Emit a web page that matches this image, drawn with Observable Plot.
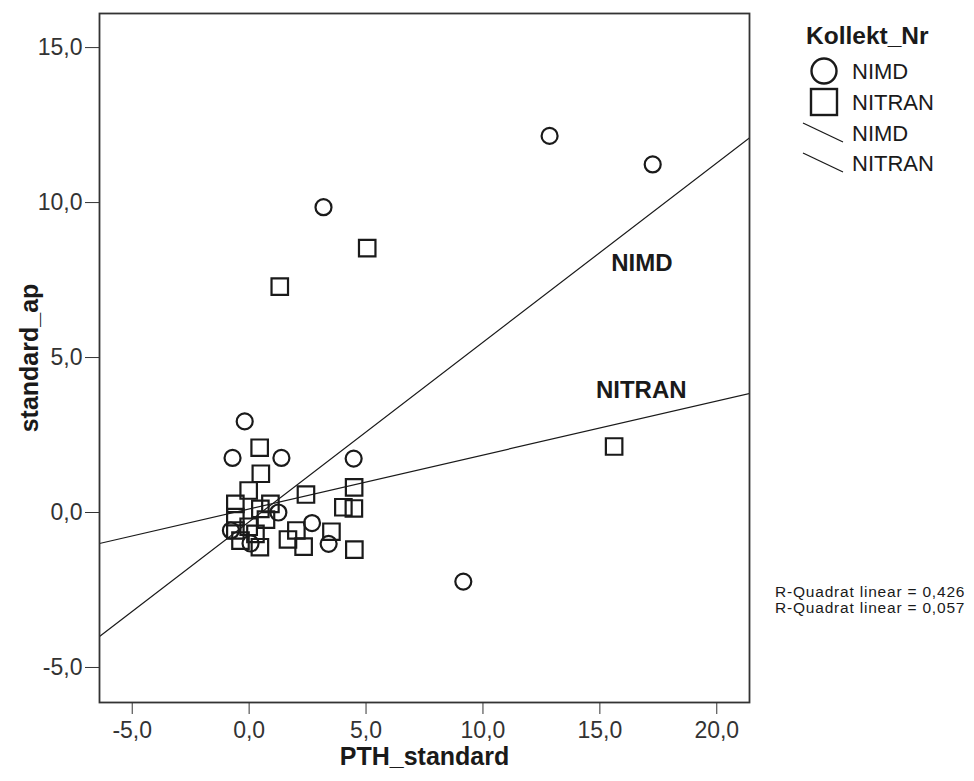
<!DOCTYPE html>
<html><head><meta charset="utf-8">
<script src="https://cdn.jsdelivr.net/npm/d3@7"></script>
<script src="https://cdn.jsdelivr.net/npm/@observablehq/plot@0.6"></script>
<style>
body{margin:0;background:#fff;}
#wrap{position:relative;width:974px;height:781px;font-family:"Liberation Sans",Arial,sans-serif;}
#wrap svg{display:block;}
#legend{position:absolute;left:0;top:0;pointer-events:none;}
</style></head><body><div id="wrap"></div>
<script>
// ---- data ----
const nimdX = [12.85, 17.26, 3.18, -0.19, -0.71, 1.38, 4.47, 2.69, 1.25, -0.78, 3.40, 9.16, 0.06];
const nimdY = [12.15, 11.23, 9.85, 2.94, 1.76, 1.76, 1.74, -0.34, 0.0, -0.58, -1.01, -2.23, -1.0];
const nitranX = [5.05, 1.31, 15.61, 0.45, 0.50, -0.02, -0.59, 0.91, 2.43, 4.49, 4.03, 4.48, -0.59, 0.48, 0.72, -0.02, 0.27, -0.59, -0.37, 0.46, 1.66, 2.02, 2.33, 3.52, 4.50];
const nitranY = [8.53, 7.29, 2.13, 2.09, 1.25, 0.71, 0.28, 0.28, 0.58, 0.81, 0.17, 0.13, -0.15, 0.12, -0.23, -0.46, -0.69, -0.58, -0.91, -1.12, -0.87, -0.58, -1.10, -0.62, -1.20];
const fitX = [-6.4, 21.4];
const nimdFitY = [-4.0, 12.09];
const nitranFitY = [-1.0, 3.84];
const groups = ["NIMD", "NITRAN"];
const fitLabelX = [16.8, 16.77];
const fitLabelY = [8.03, 3.94];
const rSquared = ["0,426", "0,057"];
const xTicks = [-5, 0, 5, 10, 15, 20];
const yTicks = [-5, 0, 5, 10, 15];
const xDomain = [-6.4, 21.4];
const yDomain = [-6.13, 16.1];
const xTitle = "PTH_standard";
const yTitle = "standard_ap";
const legendTitle = "Kollekt_Nr";

// ---- build ----
const fmt = d => d.toFixed(1).replace(".", ",");
const nimd = nimdX.map((x, i) => ({x, y: nimdY[i]}));
const nitran = nitranX.map((x, i) => ({x, y: nitranY[i]}));
const nimdFit = fitX.map((x, i) => ({x, y: nimdFitY[i]}));
const nitranFit = fitX.map((x, i) => ({x, y: nitranFitY[i]}));
const fitLabels = groups.map((g, i) => ({x: fitLabelX[i], y: fitLabelY[i], text: g}));
const ink = "#1a1a1a";

const chart = Plot.plot({
  width: 974, height: 781,
  marginLeft: 99, marginRight: 225, marginTop: 13, marginBottom: 79,
  style: {fontFamily: "'Liberation Sans', Arial, sans-serif", background: "white", color: "#333"},
  x: {domain: xDomain},
  y: {domain: yDomain},
  marks: [
    Plot.line(nimdFit, {x: "x", y: "y", stroke: ink, strokeWidth: 1.2, clip: true}),
    Plot.line(nitranFit, {x: "x", y: "y", stroke: ink, strokeWidth: 1.2, clip: true}),
    Plot.dot(nimd, {x: "x", y: "y", symbol: "circle", r: 8, stroke: ink, strokeWidth: 2.2, fill: "none"}),
    Plot.dot(nitran, {x: "x", y: "y", symbol: "square", r: 9.3, stroke: ink, strokeWidth: 2.2, fill: "none"}),
    Plot.text(fitLabels, {x: "x", y: "y", text: "text", fontWeight: "bold", fontSize: 24, fill: ink}),
    Plot.frame({stroke: "#333", strokeWidth: 1.8}),
    Plot.axisX({ticks: xTicks, tickFormat: fmt, tickSize: 12, tickPadding: 7, fontSize: 23, label: null, color: "#333"}),
    Plot.axisY({ticks: yTicks, tickFormat: fmt, tickSize: 14, tickPadding: 3, fontSize: 23, label: null, color: "#333"}),
    Plot.text([xTitle], {text: d => d, frameAnchor: "bottom", dy: 62, textAnchor: "middle", fontWeight: "bold", fontSize: 25, fill: ink}),
    Plot.text([yTitle], {text: d => d, frameAnchor: "left", dx: -70, textAnchor: "middle", rotate: -90, fontWeight: "bold", fontSize: 25, fill: ink})
  ]
});
const wrap = document.getElementById("wrap");
wrap.appendChild(chart);

// ---- legend & R² notes ----
const lg = d3.select(wrap).append("svg").attr("id", "legend").attr("width", 974).attr("height", 781)
  .style("font-family", "'Liberation Sans', Arial, sans-serif");
lg.append("text").attr("x", 806).attr("y", 44).attr("font-size", 24.5).attr("font-weight", "bold").attr("fill", ink).text(legendTitle);
const rowY = [71, 102, 133, 163];
lg.append("circle").attr("cx", 824).attr("cy", rowY[0]).attr("r", 12.5).attr("fill", "none").attr("stroke", ink).attr("stroke-width", 2.4);
lg.append("rect").attr("x", 811).attr("y", rowY[1] - 13).attr("width", 26).attr("height", 26).attr("fill", "none").attr("stroke", ink).attr("stroke-width", 2.4);
[2, 3].forEach(k => lg.append("line").attr("x1", 803).attr("y1", rowY[k] - 10).attr("x2", 843).attr("y2", rowY[k] + 9).attr("stroke", ink).attr("stroke-width", 1.3));
groups.concat(groups).forEach((g, k) => lg.append("text").attr("x", 852).attr("y", rowY[k]).attr("dy", "0.35em").attr("font-size", 22).attr("fill", ink).text(g));
rSquared.forEach((r, k) => lg.append("text").attr("x", 775).attr("y", 597 + k * 16).attr("font-size", 15.5).attr("letter-spacing", "0.8px").attr("fill", ink).text("R-Quadrat linear = " + r));
</script></body></html>
